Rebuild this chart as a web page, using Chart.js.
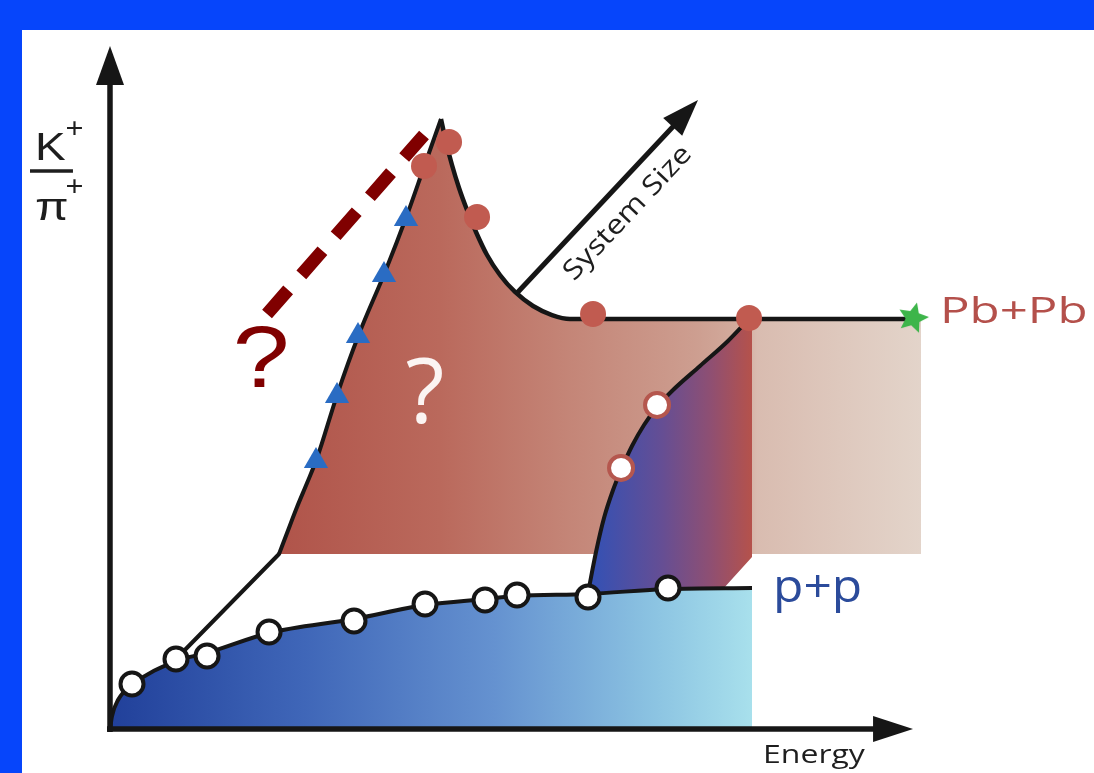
<!DOCTYPE html>
<html>
<head>
<meta charset="utf-8">
<title>K+/π+ versus energy and system size</title>
<script src="https://cdn.jsdelivr.net/npm/chart.js@4.4.1/dist/chart.umd.min.js"></script>
<style>
  html, body { margin: 0; padding: 0; background: #0645fb; overflow: hidden; }
  canvas { display: block; }
</style>
</head>
<body>
<canvas id="chart" width="1094" height="773" style="width:1094px;height:773px"></canvas>
<script>
// Schematic units: x = collision energy, y = K+/π+ ratio (both arbitrary, 0 at the axis corner)

// p+p excitation function (smooth curve) and its measured points
const ppCurve = [[0,0],[0.25,1.86],[1,4.14],[2.75,6.29],[8.25,9.71],[12.13,10.86],[19.88,13.71],[30.5,15.71],[39.38,17.71],[46.88,18.57],[50.88,19],[59.75,19.29],[69.75,20],[80.25,20.14]];
const ppPoints = [[2.75,6.43],[8.25,10],[12.13,10.43],[19.88,13.86],[30.5,15.43],[39.38,17.86],[46.88,18.43],[50.88,19.14],[59.75,18.86],[69.75,20.14]];

// Pb+Pb: branch off the p+p curve, rising edge, peak ("horn"), fall and plateau
const pbBranch = [[8.25,10],[21.13,25]];
const pbRise = [[21.13,25],[22.13,28],[23.38,31.71],[24.63,35.14],[25.88,38.71],[28.38,47.71],[31.13,56.43],[34.38,65.29],[37.13,73.43],[39.25,80.29],[41.375,87.14]];
const pbFall = [[41.375,87.14],[42,83.86],[42.75,80.57],[43.63,77.29],[44.63,74.14],[45.75,71],[47.13,67.71],[48.75,64.86],[50.63,62.43],[52.88,60.43],[55.25,59.14],[57.5,58.57],[99.5,58.57]];
const pbPlateauEnd = 101.38;   // shaded band continues to here
const pbBandFloor = 25;        // lower edge of the Pb+Pb band
const pbTriangles = [[25.75,38.29],[28.38,47.57],[31,56.14],[34.25,64.86],[37,72.86]];
const pbCircles = [[39.25,80.43],[42.38,83.86],[45.88,73.14],[60.38,59.29],[79.88,58.71]];
const pbStar = [[100.38,58.71]];

// System-size transition between p+p and Pb+Pb
const transitionEdge = [[59.75,19.43],[60.75,25.29],[61.75,30.14],[62.88,34.14],[63.88,37],[65.25,40.43],[66.75,43.43],[68.38,46],[70.25,48.29],[73.75,51.86],[77.25,55.43],[79.88,58.57]];
const transitionBox = [[80.25,58.57],[80.25,24.57],[76.63,20]];
const transitionPoints = [[63.88,37.29],[68.38,46.29]];

// Unknown extrapolation for the smallest systems (dashed)
const extrapolation = [[19.63,59.29],[39.25,84.86]];

// Axes and the system-size direction
const energyAxisEnd = 100.38;
const ratioAxisEnd = 97.57;
const sizeArrow = [[50.88,62.29],[73.5,89.86]];

// ---- styling -------------------------------------------------------------
const INK = '#161616';
const PB_STOPS = [[0,'#b0544a'],[0.25,'#ba695c'],[0.45,'#c48577'],[0.65,'#cd9e90'],[0.725,'#d3ad9f'],[0.745,'#d9bcb0'],[1,'#e3d4ca']];
const PP_STOPS = [[0,'#21409a'],[0.3,'#3f66b8'],[0.6,'#6592d0'],[0.85,'#8cc4e2'],[1,'#a8e0ec']];
const TR_STOPS = [[0,'#3151b6'],[0.45,'#654e94'],[0.75,'#8f4f72'],[1,'#b5524b']];

const xy = a => a.map(([x, y]) => ({x, y}));

function hGradient(chart, x0, x1, stops) {
  const sx = chart.scales && chart.scales.x;
  if (!sx || !chart.chartArea) return stops[0][1];
  const g = chart.ctx.createLinearGradient(sx.getPixelForValue(x0), 0, sx.getPixelForValue(x1), 0);
  stops.forEach(([o, c]) => g.addColorStop(o, c));
  return g;
}

function starImage(color, R, r) {
  const s = Math.ceil(2 * R + 2);
  const c = document.createElement('canvas');
  c.width = c.height = s;
  const g = c.getContext('2d');
  g.fillStyle = color;
  g.beginPath();
  for (let i = 0; i < 10; i++) {
    const a = -Math.PI / 2 + 0.25 + i * Math.PI / 5;
    const rad = i % 2 ? r : R;
    g.lineTo(s / 2 + rad * Math.cos(a), s / 2 + rad * Math.sin(a));
  }
  g.closePath();
  g.fill();
  return c;
}

const plateauFill = pbFall.slice(0, -1).concat([[pbPlateauEnd, pbFall[pbFall.length - 1][1]]]);
const transitionShape = transitionEdge.concat(transitionBox);
const pbBand = c => hGradient(c.chart, pbRise[0][0], pbPlateauEnd, PB_STOPS);

const datasets = [
  { // Pb+Pb band, falling side and plateau
    data: xy(plateauFill), order: 11,
    borderWidth: 0, pointRadius: 0, cubicInterpolationMode: 'monotone',
    backgroundColor: pbBand, fill: {value: pbBandFloor}
  },
  { // Pb+Pb band, rising side with its outline
    data: xy(pbRise), order: 10,
    borderColor: INK, borderWidth: 4, pointRadius: 0, cubicInterpolationMode: 'monotone',
    backgroundColor: pbBand, fill: {value: pbBandFloor}
  },
  { // transition region between p+p and Pb+Pb
    data: xy(transitionShape), order: 9,
    borderWidth: 0, pointRadius: 0, tension: 0,
    backgroundColor: c => hGradient(c.chart, 59.75, 80.25, TR_STOPS),
    fill: 'shape'
  },
  { // p+p curve and area
    data: xy(ppCurve), order: 8,
    borderColor: INK, borderWidth: 4, pointRadius: 0, cubicInterpolationMode: 'monotone',
    backgroundColor: c => hGradient(c.chart, 0, 80.25, PP_STOPS),
    fill: 'origin'
  },
  { // branch from p+p to the Pb+Pb band
    data: xy(pbBranch), order: 7,
    borderColor: INK, borderWidth: 4, borderCapStyle: 'round', pointRadius: 0, tension: 0, fill: false
  },
  { // Pb+Pb falling side outline
    data: xy(pbFall), order: 7,
    borderColor: INK, borderWidth: 4.5, pointRadius: 0, cubicInterpolationMode: 'monotone', fill: false
  },
  { // transition edge outline
    data: xy(transitionEdge), order: 7,
    borderColor: INK, borderWidth: 4, pointRadius: 0, cubicInterpolationMode: 'monotone', fill: false
  },
  { // extrapolation
    data: xy(extrapolation), order: 6,
    borderColor: '#800000', borderWidth: 13, borderDash: [32, 20], borderCapStyle: 'butt',
    pointRadius: 0, tension: 0, fill: false
  },
  { // p+p measurements
    data: xy(ppPoints), order: 3, showLine: false,
    pointRadius: 11.5, pointBorderWidth: 4, pointBorderColor: INK, pointBackgroundColor: '#ffffff'
  },
  { // intermediate-system measurements
    data: xy(transitionPoints), order: 3, showLine: false,
    pointRadius: 12, pointBorderWidth: 4, pointBorderColor: '#b5574e', pointBackgroundColor: '#ffffff'
  },
  { // Pb+Pb measurements (rise)
    data: xy(pbTriangles), order: 2, showLine: false,
    pointStyle: 'triangle', pointRadius: 14, pointBorderWidth: 0, pointBackgroundColor: '#2a6cc3'
  },
  { // Pb+Pb measurements (horn and plateau)
    data: xy(pbCircles), order: 2, showLine: false,
    pointRadius: 13, pointBorderWidth: 0, pointBackgroundColor: '#c15b50'
  },
  { // LHC Pb+Pb
    data: xy(pbStar), order: 1, showLine: false,
    pointStyle: starImage('#3db54a', 16, 7.5), pointRadius: 16
  }
];

// ---- text and arrows -----------------------------------------------------
const texts = [
  {text: 'Pb+Pb',  at: [103.75, 58],    font: '37px "Open Sans"',      color: '#b4504b', sx: 1.33, align: 'left'},
  {text: 'p+p',    at: [82.88, 18.14],  font: '46px "Open Sans"',      color: '#2b4b9b', sx: 1.08, align: 'left'},
  {text: 'Energy', at: [81.63, -4.86],  font: '25px "Open Sans"',      color: '#1e1e1e', sx: 1.28, align: 'left'},
  {text: '?',      at: [18.88, 48.86],  font: '88px "Liberation Sans"', color: '#800000', sx: 1.16, align: 'center'},
  {text: '?',      at: [39.38, 43.71],  font: '90px "Open Sans"',      color: '#fbf4f2', sx: 1.0,  align: 'center'}
];
const ratioLabel = [
  {text: 'K', at: [-9.38, 81.29], font: '39px "Liberation Sans"', sx: 1.18},
  {text: '+', at: [-5.56, 84.57], font: '28px "Liberation Sans"', sx: 1.1},
  {text: 'π', at: [-9.38, 72.71], font: '39px "Liberation Sans"', sx: 1.25},
  {text: '+', at: [-5.56, 76.29], font: '28px "Liberation Sans"', sx: 1.1}
];
const ratioBar = [[-10, 79.71], [-4.63, 79.71]];
const sizeLabel = {text: 'System Size', at: [64.75, 73.71], font: '27px "Open Sans"', sx: 1.18};

function drawText(ctx, t, x, y, opts) {
  ctx.save();
  ctx.translate(x, y);
  if (opts.rotate) ctx.rotate(opts.rotate);
  ctx.scale(opts.sx || 1, 1);
  ctx.font = opts.font;
  ctx.fillStyle = opts.color || INK;
  ctx.textAlign = opts.align || 'left';
  ctx.textBaseline = opts.baseline || 'alphabetic';
  ctx.fillText(t, 0, 0);
  ctx.restore();
}

function arrow(ctx, x0, y0, x1, y1, head, half, width) {
  const a = Math.atan2(y1 - y0, x1 - x0);
  const bx = x1 - head * Math.cos(a), by = y1 - head * Math.sin(a);
  ctx.save();
  ctx.strokeStyle = INK; ctx.fillStyle = INK; ctx.lineWidth = width; ctx.lineCap = 'butt';
  ctx.beginPath(); ctx.moveTo(x0, y0); ctx.lineTo(bx + 2 * Math.cos(a), by + 2 * Math.sin(a)); ctx.stroke();
  ctx.beginPath();
  ctx.moveTo(x1, y1);
  ctx.lineTo(bx - half * Math.sin(a), by + half * Math.cos(a));
  ctx.lineTo(bx + half * Math.sin(a), by - half * Math.cos(a));
  ctx.closePath(); ctx.fill();
  ctx.restore();
}

const slideBackdrop = {
  id: 'slideBackdrop',
  beforeDraw(chart) {
    const {ctx, width, height} = chart;
    ctx.save();
    ctx.fillStyle = '#0645fb';
    ctx.fillRect(0, 0, width, height);
    ctx.fillStyle = '#ffffff';
    ctx.fillRect(22, 30, width - 22, height - 30);
    ctx.restore();
  }
};

const schematicOverlay = {
  id: 'schematicOverlay',
  afterDatasetsDraw(chart) {
    const {ctx} = chart;
    const px = v => chart.scales.x.getPixelForValue(v);
    const py = v => chart.scales.y.getPixelForValue(v);

    // axes
    arrow(ctx, px(0), py(0) + 3, px(0), py(ratioAxisEnd), 39, 14, 5.5);
    arrow(ctx, px(0) - 3, py(0), px(energyAxisEnd), py(0), 40, 13, 5.5);
    // system size direction
    const [s0, s1] = sizeArrow;
    arrow(ctx, px(s0[0]), py(s0[1]), px(s1[0]), py(s1[1]), 37, 13, 5);
    const ang = Math.atan2(py(s1[1]) - py(s0[1]), px(s1[0]) - px(s0[0]));
    drawText(ctx, sizeLabel.text, px(sizeLabel.at[0]), py(sizeLabel.at[1]),
      {font: sizeLabel.font, sx: sizeLabel.sx, rotate: ang, align: 'center', baseline: 'middle', color: '#1e1e1e'});

    // K+/π+ axis title
    ratioLabel.forEach(l => drawText(ctx, l.text, px(l.at[0]), py(l.at[1]), {font: l.font, sx: l.sx, color: '#1e1e1e'}));
    ctx.save();
    ctx.strokeStyle = '#1e1e1e'; ctx.lineWidth = 3.5;
    ctx.beginPath();
    ctx.moveTo(px(ratioBar[0][0]), py(ratioBar[0][1]));
    ctx.lineTo(px(ratioBar[1][0]), py(ratioBar[1][1]));
    ctx.stroke();
    ctx.restore();

    texts.forEach(t => drawText(ctx, t.text, px(t.at[0]), py(t.at[1]), t));
  }
};

const chart = new Chart(document.getElementById('chart'), {
  type: 'line',
  data: {datasets},
  options: {
    responsive: false,
    animation: false,
    devicePixelRatio: 1,
    events: [],
    layout: {padding: 0, autoPadding: false},
    scales: {
      x: {type: 'linear', display: false, min: -13.75, max: 123},
      y: {type: 'linear', display: false, min: -44 / 7, max: 729 / 7}
    },
    plugins: {
      legend: {display: false},
      tooltip: {enabled: false},
      filler: {propagate: false}
    }
  },
  plugins: [slideBackdrop, schematicOverlay]
});

if (document.fonts && document.fonts.ready) {
  document.fonts.ready.then(() => chart.draw());
}
</script>
</body>
</html>
